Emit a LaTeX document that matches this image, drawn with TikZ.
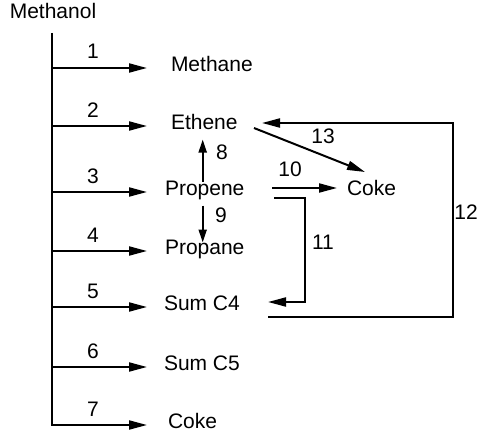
\documentclass[tikz,border=0pt]{standalone}
\usepackage{fontspec}
\setsansfont{Liberation Sans}
\usetikzlibrary{arrows.meta}
\begin{document}
\begin{tikzpicture}[font=\sffamily\fontsize{21}{25}\selectfont, x=1pt, y=-1pt, line width=2pt,
    >={Triangle[length=18pt,width=9pt]},
    smallarrow/.style={-{Triangle[length=13pt,width=8pt]}},
    every node/.style={inner sep=0pt, text height=0.7em, text depth=0pt}]
  \useasboundingbox (0,0) rectangle (479,436);
  \node (methanol) at (53,15) {Methanol};
  \node[anchor=west] (methane) at (170,68) {Methane};
  \node[anchor=west] (ethene) at (170,126) {Ethene};
  \node[anchor=west] (propene) at (164,192) {Propene};
  \node[anchor=west] (propane) at (164,251) {Propane};
  \node[anchor=west] (sumcfour) at (163,307) {Sum C4};
  \node[anchor=west] (sumcfive) at (163,367) {Sum C5};
  \node[anchor=west] (cokebot) at (167,425) {Coke};
  \node[anchor=west] (coke) at (346,192) {Coke};
  \coordinate (trunktop) at (52,33);
  \coordinate (tipx) at (147,0);
  % methanol trunk and its seven branches
  \draw[->] (trunktop) |- (tipx |- cokebot.west) node[pos=0.716, above=8pt] (l7) {7};
  \foreach \sp/\k in {methane/1, ethene/2, propene/3, propane/4, sumcfour/5, sumcfive/6}
    \draw[->] (trunktop |- \sp.west) -- (tipx |- \sp.west) node[pos=0.43, above=8pt] (l\k) {\k};
  % secondary reactions
  \draw[smallarrow, shorten <=6pt, shorten >=9pt] ([xshift=-2pt]propene.north) -- ([xshift=-2pt]propene.north |- ethene.south);
  \draw[smallarrow, shorten <=9pt, shorten >=4pt] ([xshift=-2pt]propene.south) -- ([xshift=-2pt]propene.south |- propane.north);
  \node (l8) at (222,156) {8};
  \node (l9) at (221,219) {9};
  \coordinate (r10) at (272,188);
  \coordinate (r11) at (274,198);
  \coordinate (c4in) at (268,302);
  \coordinate (c4out) at (268,317);
  \coordinate (e12) at (262,123);
  \coordinate (e13) at (254,128);
  \coordinate (k13) at (365,172);
  \draw[->] (r10) -- ([xshift=-9pt]coke.west |- r10);
  \draw[->] (r11) -| ([xshift=37pt]c4in) -- (c4in);
  \draw[->] (c4out) -| ([xshift=191pt]e12) -- (e12);
  \draw[->] (e13) -- (k13);
  \node (l10) at (290,173) {10};
  \node (l11) at (323,246) {11};
  \node (l12) at (466,216) {12};
  \node (l13) at (323,140) {13};
\end{tikzpicture}
\end{document}
